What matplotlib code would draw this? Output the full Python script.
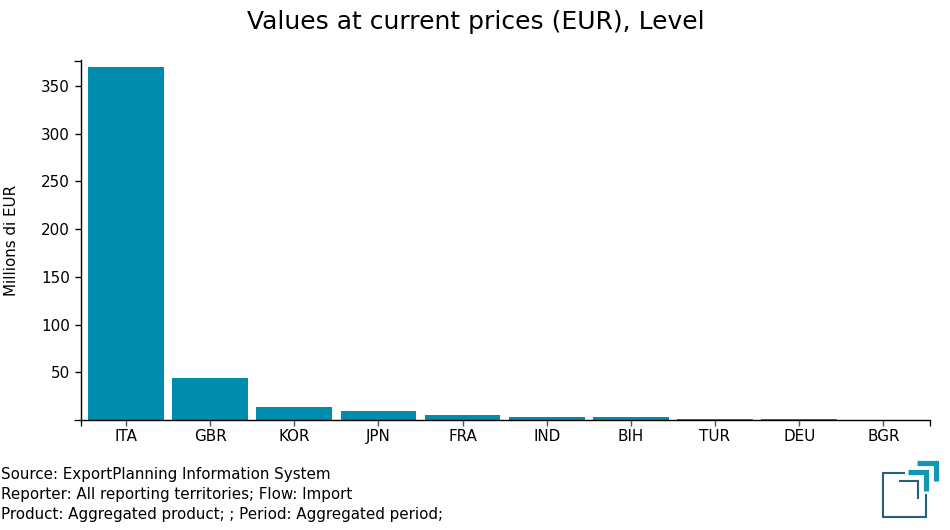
import matplotlib
matplotlib.use('Agg')
import matplotlib.pyplot as plt
from matplotlib.lines import Line2D

countries = ['ITA', 'GBR', 'KOR', 'JPN', 'FRA', 'IND', 'BIH', 'TUR', 'DEU', 'BGR']
values = [370, 44.5, 13.5, 9.5, 5, 3.2, 3, 1.5, 1.4, 0.1]
y_ticks = [50, 100, 150, 200, 250, 300, 350]
footer = ['Source: ExportPlanning Information System',
          'Reporter: All reporting territories; Flow: Import',
          'Product: Aggregated product; ; Period: Aggregated period;']

W, H = 950, 530
bar_color = '#008cad'
dark_teal = '#27607a'
light_teal = '#1396b4'
base = 420.2


def px_line(fig, xs, ys, color, lw):
    # logo pieces, given in pixels from the top left
    fig.add_artist(Line2D([x / W for x in xs], [1 - y / H for y in ys], color=color,
                          linewidth=lw * 0.72, solid_joinstyle='miter',
                          solid_capstyle='butt', transform=fig.transFigure))


fig = plt.figure(figsize=(W / 100, H / 100), dpi=100)
ax = fig.add_axes([80.5 / W, 1 - base / H, (930 - 80.5) / W, (base - 60) / H])

ax.bar(range(len(countries)), values, width=0.9, color=bar_color, zorder=1)
ax.set_xlim(-0.54, 9.555)
ax.set_ylim(0, (base - 60) / 0.955)

ax.spines['top'].set_visible(False)
ax.spines['right'].set_visible(False)
ax.spines['left'].set_linewidth(1)
ax.spines['bottom'].set_linewidth(1)

ax.set_xticks(range(len(countries)))
ax.set_xticklabels(countries)
ax.set_yticks(y_ticks)
ax.tick_params(axis='both', labelsize=10.9, length=4.5, width=1, color='black', pad=3)
ax.tick_params(axis='x', color='#555555', pad=1.5)

# end ticks of the axes
for x0, y0, x1, y1 in [(74, base, 80.5, base), (74, 60.5, 80.5, 60.5),
                       (80.5, base, 80.5, 426), (930, base, 930, 426)]:
    px_line(fig, [x0, x1], [y0, y1], 'black', 1.3)

fig.text(476 / W, 1 - 22 / H, 'Values at current prices (EUR), Level', fontsize=18,
         ha='center', va='center')
fig.text(11.5 / W, 1 - 240 / H, 'Millions di EUR', fontsize=10.9, rotation=90,
         ha='center', va='center')
for i, line in enumerate(footer):
    fig.text(1 / W, 1 - (475 + i * 20) / H, line, fontsize=10.9, ha='left', va='center')

# logo
px_line(fig, [904.7, 882.5, 882.5, 926, 926], [472.5, 472.5, 516.5, 516.5, 494.3], dark_teal, 2.1)
px_line(fig, [899.3, 918.3, 918.3], [480.5, 480.5, 499], dark_teal, 2.1)
px_line(fig, [907.7, 926.2, 926.2], [472.4, 472.4, 490.7], light_teal, 5.2)
px_line(fig, [917.3, 935.8, 935.8], [462.6, 462.6, 480.7], light_teal, 5.2)

fig.savefig('out.png', dpi=100)
